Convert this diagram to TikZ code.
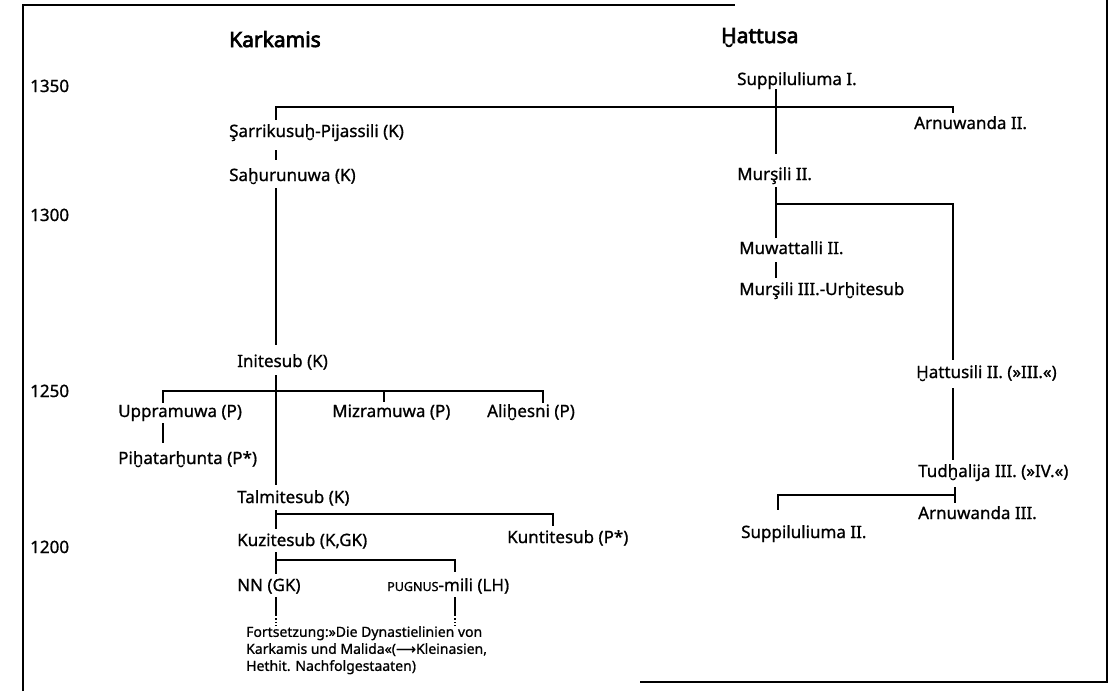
\documentclass[tikz,border=0pt]{standalone}
\usepackage{fontspec}
\setmainfont{Noto Sans}[FakeBold=0.9, AutoFakeBold=3.2]
\newfontfamily\arrowfont{DejaVu Sans}[FakeBold=0.9]
\begin{document}
\begin{tikzpicture}[x=1pt,y=-1pt,
  lbl/.style={anchor=base west, inner sep=0pt, text height=13pt, text depth=4pt, font=\fontsize{17}{20}\selectfont},
  hdr/.style={anchor=base west, inner sep=0pt, font=\fontsize{21}{24}\selectfont\bfseries},
  note/.style={anchor=north west, inner sep=0pt, align=left, font=\fontsize{14}{17}\selectfont},
  ln/.style={line width=2pt},
  dotln/.style={line width=1.4pt, dotted},
  frm/.style={line width=1.2pt}]
\useasboundingbox (0,0) rectangle (1110,691);
% frame
\draw[frm] (23,691) -- (23,5) -- (735,5);
\draw[frm] (1107,0) -- (1107,682) -- (640,682);
% x positions of the lines
\coordinate (xL) at (276,0);
\coordinate (xR) at (776,0);
\coordinate (xR2) at (953,0);
\coordinate (xR3) at (955,0);
\coordinate (xSup2) at (778,0);
\coordinate (xUpp) at (163,0);
\coordinate (xMiz) at (384,0);
\coordinate (xAli) at (543,0);
\coordinate (xKun) at (553,0);
\coordinate (xPug) at (455,0);
% y positions of the bars
\coordinate (bTop) at (0,107);
\coordinate (bMur) at (0,204);
\coordinate (bIni) at (0,391);
\coordinate (bTud) at (0,495);
\coordinate (bTal) at (0,514);
\coordinate (bKuz) at (0,560);
\coordinate (bDot) at (0,615);
% headings and years
\node[hdr] (hk) at (229,47) {Karkamis};
\node[hdr] (hh) at (721,43) {Ḫattusa};
\node[lbl] (y1350) at (30,92) {1350};
\node[lbl] (y1300) at (30,221) {1300};
\node[lbl] (y1250) at (30,397) {1250};
\node[lbl] (y1200) at (30,553) {1200};
% Hattusa
\node[lbl] (sup1) at (737,85) {Suppiluliuma I.};
\node[lbl] (arn2) at (914,129) {Arnuwanda II.};
\node[lbl] (mur2) at (737,180) {Murşili II.};
\node[lbl] (muw) at (739,254) {Muwattalli II.};
\node[lbl] (mur3) at (739,295) {Murşili III.-Urḫitesub};
\node[lbl] (hat) at (916,378) {Ḫattusili II. (»III.«)};
\node[lbl] (tud) at (918,477) {Tudḫalija III. (»IV.«)};
\node[lbl] (arn3) at (918,519) {Arnuwanda III.};
\node[lbl] (sup2) at (741,538) {Suppiluliuma II.};
% Karkamis
\node[lbl] (sar) at (229,137) {Şarrikusuḫ-Pijassili (K)};
\node[lbl] (sah) at (229,181) {Saḫurunuwa (K)};
\node[lbl] (ini) at (237,367) {Initesub (K)};
\node[lbl] (upp) at (118,417) {Uppramuwa (P)};
\node[lbl] (miz) at (332,417) {Mizramuwa (P)};
\node[lbl] (ali) at (487,417) {Aliḫesni (P)};
\node[lbl] (pih) at (118,464) {Piḫatarḫunta (P*)};
\node[lbl] (tal) at (237,503) {Talmitesub (K)};
\node[lbl] (kuz) at (237,546) {Kuzitesub (K,GK)};
\node[lbl] (kun) at (507,543) {Kuntitesub (P*)};
\node[lbl] (nn) at (237,591) {NN (GK)};
\node[lbl] (pug) at (387,591) {{\fontsize{12.5}{12}\selectfont PUGNUS}-mili (LH)};
\node[note] (fort) at (246,626) {Fortsetzung:»Die Dynastielinien von\\Karkamis und Malida«({\arrowfont⟶}Kleinasien,\\Hethit. Nachfolgestaaten)};
% connectors: top generation
\draw[ln, shorten <=4pt, shorten >=3pt] (sar.north -| xL) -- (xL |- bTop) -- (xR2 |- bTop) -- (arn2.north -| xR2);
\draw[ln, shorten >=13pt] (sup1.south -| xR) -- (mur2.north -| xR);
% Hattusa line
\draw[ln, shorten >=5pt] (xR |- bMur) -- (xR2 |- bMur) -- (hat.north -| xR2);
\draw[ln, shorten <=3pt, shorten >=3pt] (mur2.south -| xR) -- (muw.north -| xR);
\draw[ln, shorten <=4pt, shorten >=4pt] (muw.south -| xR) -- (mur3.north -| xR);
\draw[ln, shorten <=6pt, shorten >=4pt] (hat.south -| xR2) -- (tud.north -| xR2);
\draw[ln, shorten <=6pt, shorten >=3pt] (tud.south -| xR3) -- (arn3.north -| xR3);
\draw[ln, shorten >=15pt] (xR3 |- bTud) -- (xSup2 |- bTud) -- (sup2.north -| xSup2);
% Karkamis line
\draw[ln, shorten <=9pt, shorten >=8pt] (sar.south -| xL) -- (sah.north -| xL);
\draw[ln, shorten <=3pt, shorten >=9pt] (sah.south -| xL) -- (ini.north -| xL);
\draw[ln, shorten <=4pt, shorten >=5pt] (ini.south -| xL) -- (tal.north -| xL);
\draw[ln, shorten <=1pt, shorten >=1pt] (upp.north -| xUpp) -- (xUpp |- bIni) -- (xAli |- bIni) -- (ali.north -| xAli);
\draw[ln, shorten >=2pt] (xMiz |- bIni) -- (miz.north -| xMiz);
\draw[ln, shorten <=2pt, shorten >=8pt] (upp.south -| xUpp) -- (pih.north -| xUpp);
\draw[ln, shorten <=3pt, shorten >=4pt] (tal.south -| xL) -- (kuz.north -| xL);
\draw[ln, shorten >=4pt] (xL |- bTal) -- (xKun |- bTal) -- (kun.north -| xKun);
\draw[ln, shorten <=2pt, shorten >=4pt] (kuz.south -| xL) -- (nn.north -| xL);
\draw[ln, shorten >=6pt] (xL |- bKuz) -- (xPug |- bKuz) -- (pug.north -| xPug);
% continuation
\draw[ln, shorten <=2pt] (nn.south -| xL) -- (xL |- bDot);
\draw[dotln] (xL |- bDot) -- (fort.north -| xL);
\draw[ln, shorten <=2pt] (pug.south -| xPug) -- (xPug |- bDot);
\draw[dotln] (xPug |- bDot) -- (fort.north -| xPug);
\end{tikzpicture}
\end{document}
